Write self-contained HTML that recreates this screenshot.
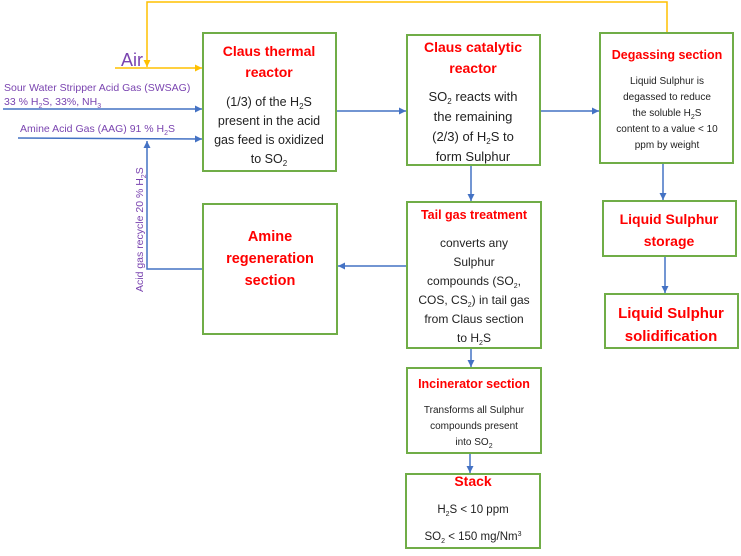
<!DOCTYPE html>
<html><head><meta charset="utf-8"><style>
html,body{margin:0;padding:0;background:#fff;}
svg{display:block;font-family:"Liberation Sans",sans-serif;}
.r{fill:#ff0000;font-weight:bold;text-anchor:middle;}
.b{fill:#222;text-anchor:middle;}
.p{fill:#7a44b0;}
</style></head><body>
<svg width="741" height="556" viewBox="0 0 741 556" xmlns="http://www.w3.org/2000/svg">
<defs>
<marker id="ab" markerWidth="8" markerHeight="8" refX="7" refY="4" orient="auto" markerUnits="userSpaceOnUse"><path d="M0,0.5 L7,4 L0,7.5z" fill="#4472c4"/></marker>
<marker id="ay" markerWidth="8" markerHeight="8" refX="7" refY="4" orient="auto" markerUnits="userSpaceOnUse"><path d="M0,0.5 L7,4 L0,7.5z" fill="#ffc000"/></marker>
</defs>
<g fill="none" stroke-width="1.5">
<polyline points="667,33 667,2 147,2 147,67" stroke="#ffc000" marker-end="url(#ay)"/>
<line x1="115" y1="68" x2="202" y2="68" stroke="#ffc000" marker-end="url(#ay)"/>
<g stroke="#4472c4">
<line x1="3" y1="109" x2="202" y2="109" marker-end="url(#ab)"/>
<line x1="18" y1="138" x2="202" y2="139" marker-end="url(#ab)"/>
<polyline points="203,269 147,269 147,141" marker-end="url(#ab)"/>
<line x1="336" y1="111" x2="406" y2="111" marker-end="url(#ab)"/>
<line x1="540" y1="111" x2="599" y2="111" marker-end="url(#ab)"/>
<line x1="471" y1="165" x2="471" y2="201" marker-end="url(#ab)"/>
<line x1="407" y1="266" x2="338" y2="266" marker-end="url(#ab)"/>
<line x1="471" y1="348" x2="471" y2="367" marker-end="url(#ab)"/>
<line x1="470" y1="453" x2="470" y2="473" marker-end="url(#ab)"/>
<line x1="663" y1="163" x2="663" y2="200" marker-end="url(#ab)"/>
<line x1="665" y1="256" x2="665" y2="293" marker-end="url(#ab)"/>
</g>
<g stroke="#70ad47" stroke-width="2">
<rect x="203" y="33" width="133" height="138"/>
<rect x="407" y="35" width="133" height="130"/>
<rect x="600" y="33" width="133" height="130"/>
<rect x="203" y="204" width="134" height="130"/>
<rect x="407" y="202" width="134" height="146"/>
<rect x="407" y="368" width="134" height="85"/>
<rect x="406" y="474" width="134" height="74"/>
<rect x="603" y="201" width="133" height="55"/>
<rect x="605" y="294" width="133" height="54"/>
</g>
</g>
<text x="121" y="66" class="p" font-size="18">Air</text>
<text x="4" y="91" class="p" font-size="10.5">Sour Water Stripper Acid Gas (SWSAG)</text>
<text x="4" y="105" class="p" font-size="10.5">33 % H<tspan font-size="7" dy="3">2</tspan><tspan dy="-3">S, 33%, NH</tspan><tspan font-size="7" dy="3">3</tspan></text>
<text x="20" y="132" class="p" font-size="10.5">Amine Acid Gas (AAG) 91 % H<tspan font-size="7" dy="3">2</tspan><tspan dy="-3">S</tspan></text>
<text transform="translate(143,292) rotate(-90)" class="p" font-size="10.5">Acid gas recycle 20 % H<tspan font-size="7" dy="3">2</tspan><tspan dy="-3">S</tspan></text>

<text x="269" y="56" class="r" font-size="14">Claus thermal</text>
<text x="269" y="77" class="r" font-size="14">reactor</text>
<g class="b" font-size="12.5">
<text x="269" y="106">(1/3) of the H<tspan font-size="8" dy="3">2</tspan><tspan dy="-3">S</tspan></text>
<text x="269" y="125">present in the acid</text>
<text x="269" y="144">gas feed is oxidized</text>
<text x="269" y="163">to SO<tspan font-size="8" dy="3">2</tspan></text>
</g>

<text x="473" y="52" class="r" font-size="14">Claus catalytic</text>
<text x="473" y="73" class="r" font-size="14">reactor</text>
<g class="b" font-size="13">
<text x="473" y="101">SO<tspan font-size="8" dy="3">2</tspan><tspan dy="-3"> reacts with</tspan></text>
<text x="473" y="121">the remaining</text>
<text x="473" y="141">(2/3) of H<tspan font-size="8" dy="3">2</tspan><tspan dy="-3">S to</tspan></text>
<text x="473" y="161">form Sulphur</text>
</g>

<text x="667" y="59" class="r" font-size="12.5">Degassing section</text>
<g class="b" font-size="10">
<text x="667" y="84">Liquid Sulphur is</text>
<text x="667" y="100">degassed to reduce</text>
<text x="667" y="116">the soluble H<tspan font-size="7" dy="3">2</tspan><tspan dy="-3">S</tspan></text>
<text x="667" y="132">content to a value &lt; 10</text>
<text x="667" y="148">ppm by weight</text>
</g>

<text x="270" y="241" class="r" font-size="14.5">Amine</text>
<text x="270" y="263" class="r" font-size="14.5">regeneration</text>
<text x="270" y="285" class="r" font-size="14.5">section</text>

<text x="474" y="219" class="r" font-size="12.5">Tail gas treatment</text>
<g class="b" font-size="12">
<text x="474" y="247">converts any</text>
<text x="474" y="266">Sulphur</text>
<text x="474" y="285">compounds (SO<tspan font-size="7" dy="3">2</tspan><tspan dy="-3">,</tspan></text>
<text x="474" y="304">COS, CS<tspan font-size="7" dy="3">2</tspan><tspan dy="-3">) in tail gas</tspan></text>
<text x="474" y="323">from Claus section</text>
<text x="474" y="342">to H<tspan font-size="7" dy="3">2</tspan><tspan dy="-3">S</tspan></text>
</g>

<text x="474" y="388" class="r" font-size="12.5">Incinerator section</text>
<g class="b" font-size="10">
<text x="474" y="413">Transforms all Sulphur</text>
<text x="474" y="429">compounds present</text>
<text x="474" y="445">into SO<tspan font-size="7" dy="3">2</tspan></text>
</g>

<text x="473" y="486" class="r" font-size="14">Stack</text>
<g class="b" font-size="11.5">
<text x="473" y="513">H<tspan font-size="7" dy="3">2</tspan><tspan dy="-3">S &lt; 10 ppm</tspan></text>
<text x="473" y="540">SO<tspan font-size="7" dy="3">2</tspan><tspan dy="-3"> &lt; 150 mg/Nm</tspan><tspan font-size="7" dy="-4">3</tspan></text>
</g>

<text x="669" y="224" class="r" font-size="14">Liquid Sulphur</text>
<text x="669" y="246" class="r" font-size="14">storage</text>
<text x="671" y="318" class="r" font-size="15">Liquid Sulphur</text>
<text x="671" y="341" class="r" font-size="15">solidification</text>
</svg>
</body></html>
